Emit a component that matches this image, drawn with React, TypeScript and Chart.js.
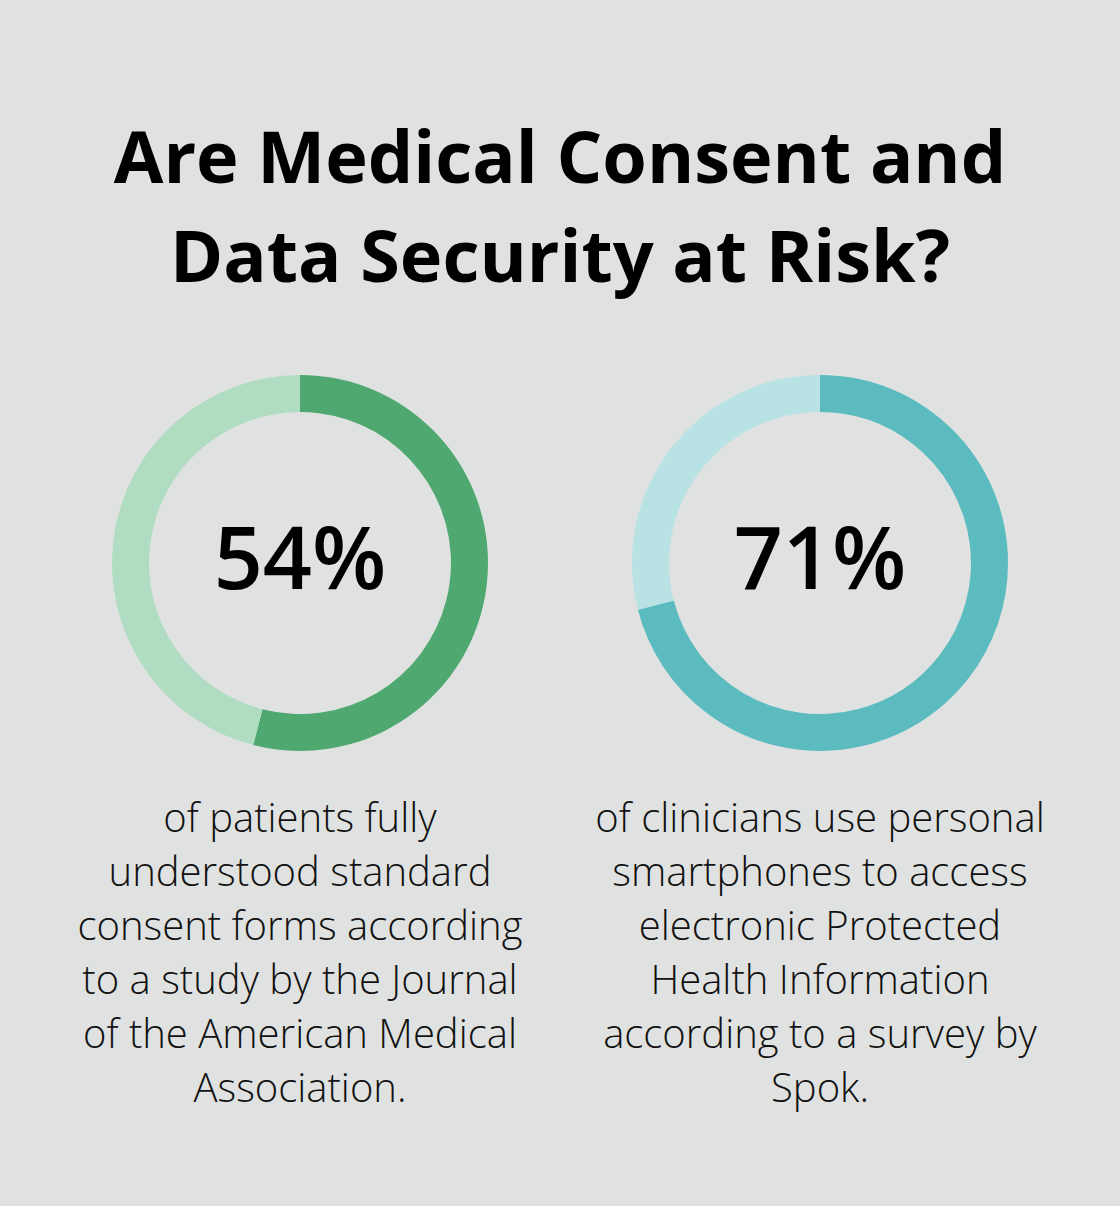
import React, { useEffect, useRef } from "react";
import { Chart, registerables } from "chart.js";

Chart.register(...registerables);

const titleLines = ["Are Medical Consent and", "Data Security at Risk?"];
const percentValues = [54, 71];
const percentLabels = ["54%", "71%"];
const mainColors = ["#4EA86F", "#5BBBBF"];
const restColors = ["#B0DCC2", "#B8E2E4"];
const descriptions = [
  [
    "of patients fully",
    "understood standard",
    "consent forms according",
    "to a study by the Journal",
    "of the American Medical",
    "Association.",
  ],
  [
    "of clinicians use personal",
    "smartphones to access",
    "electronic Protected",
    "Health Information",
    "according to a survey by",
    "Spok.",
  ],
];
const centersX = [300, 820];

function Donut({ idx }: { idx: number }) {
  const ref = useRef<HTMLCanvasElement>(null);
  useEffect(() => {
    if (!ref.current) return;
    const v = percentValues[idx];
    const chart = new Chart(ref.current, {
      type: "doughnut",
      data: {
        labels: ["value", "rest"],
        datasets: [
          {
            data: [v, 100 - v],
            backgroundColor: [mainColors[idx], restColors[idx]],
            borderWidth: 0,
          },
        ],
      },
      options: {
        animation: false,
        responsive: false,
        cutout: "80.3%",
        layout: { padding: 12 },
        plugins: { legend: { display: false }, tooltip: { enabled: false } },
      },
    });
    return () => chart.destroy();
  }, [idx]);
  return (
    <canvas
      ref={ref}
      width={400}
      height={400}
      style={{ position: "absolute", left: centersX[idx] - 200, top: 363, width: 400, height: 400 }}
    />
  );
}

export default function App() {
  return (
    <div
      style={{
        position: "absolute",
        left: 0,
        top: 0,
        width: 1120,
        height: 1206,
        background: "#E0E2E1",
        fontFamily: "'Open Sans', sans-serif",
        color: "#000",
        overflow: "hidden",
      }}
    >
      <div
        style={{
          position: "absolute",
          left: 0,
          top: 106,
          width: 1120,
          textAlign: "center",
          fontSize: 72,
          fontWeight: 700,
          lineHeight: "99px",
        }}
      >
        {titleLines.map((l, i) => (
          <div key={i}>{l}</div>
        ))}
      </div>
      {[0, 1].map((i) => (
        <React.Fragment key={i}>
          <Donut idx={i} />
          <div
            style={{
              position: "absolute",
              left: centersX[i] - 150,
              top: 501,
              width: 300,
              textAlign: "center",
              fontSize: 86,
              fontWeight: 600,
              lineHeight: "110px",
            }}
          >
            {percentLabels[i]}
          </div>
          <div
            style={{
              position: "absolute",
              left: centersX[i] - 260,
              top: 790,
              width: 520,
              textAlign: "center",
              fontSize: 40,
              fontWeight: 300,
              lineHeight: "54px",
              color: "#111",
            }}
          >
            {descriptions[i].map((l, j) => (
              <div key={j} style={{ whiteSpace: "nowrap" }}>{l}</div>
            ))}
          </div>
        </React.Fragment>
      ))}
    </div>
  );
}
